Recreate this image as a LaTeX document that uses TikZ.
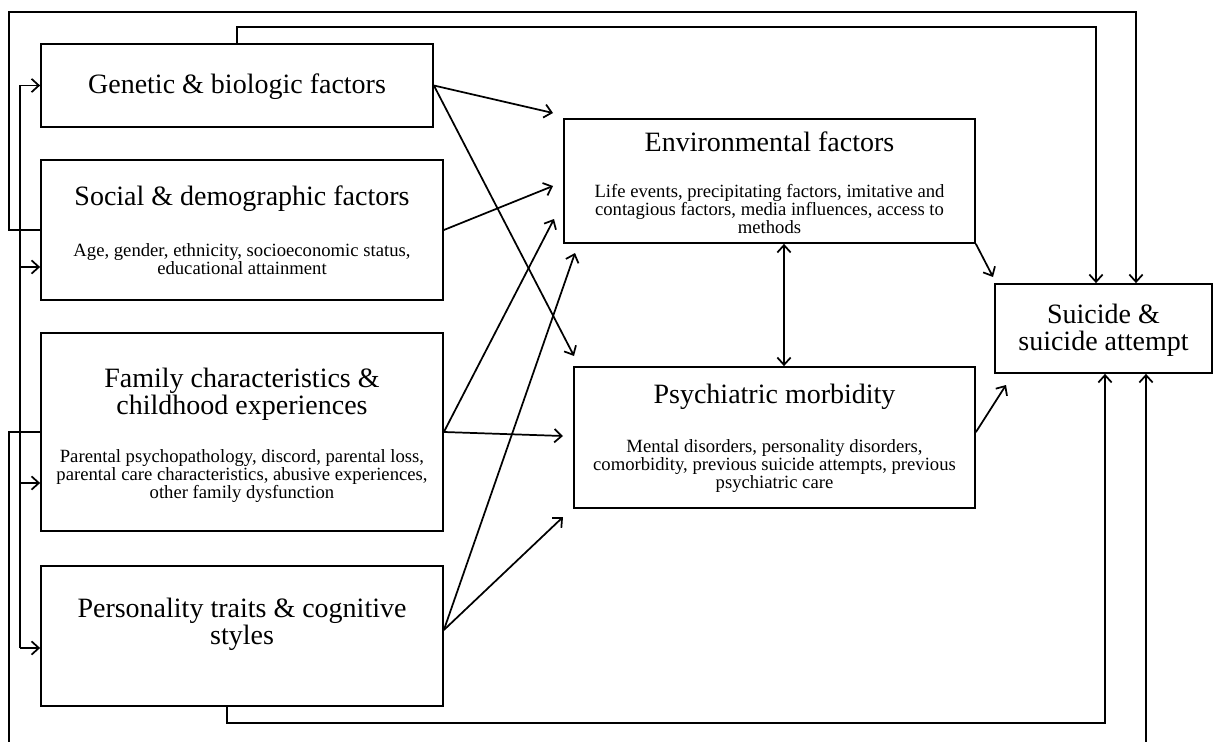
\documentclass[tikz,border=0pt]{standalone}
\usepackage{fontspec}
\setmainfont{Liberation Serif}
\usetikzlibrary{arrows.meta, calc, positioning}

\tikzset{
  box/.style={draw, line width=1.3pt, inner sep=0pt},
  title/.style={font=\fontsize{21}{20.5}\selectfont, align=center},
  detail/.style={font=\fontsize{14}{13.7}\selectfont, align=center},
  wire/.style={line width=1.3pt},
}

\begin{document}
\begin{tikzpicture}[x=0.75pt, y=-0.75pt, >={Straight Barb[length=5.5pt,width=10pt]}]
\useasboundingbox (0,0) rectangle (1214,742);
% Factores de la izquierda
\node[box, minimum width=294pt, minimum height=62.25pt] (gen) at (237,85.5) {};
\node[box, minimum width=301.5pt, minimum height=105pt] (soc) at (242,230) {};
\node[box, minimum width=301.5pt, minimum height=148.5pt] (fam) at (242,432) {};
\node[box, minimum width=301.5pt, minimum height=105pt] (per) at (242,636) {};
\node[title] (genT) at (237,87) {Genetic \& biologic factors};
\node[title] (socT) at (242,199) {Social \& demographic factors};
\node[detail] (socD) at (242,259) {Age, gender, ethnicity, socioeconomic status,\\ educational attainment};
\node[title] (famT) at (242,394) {Family characteristics \&\\ childhood experiences};
\node[detail] (famD) at (242,476) {Parental psychopathology, discord, parental loss,\\ parental care characteristics, abusive experiences,\\ other family dysfunction};
\node[title] (perT) at (242,624) {Personality traits \& cognitive\\ styles};
% Cajas del centro
\node[box, minimum width=308.25pt, minimum height=93pt] (env) at (769.5,181) {};
\node[box, minimum width=300.75pt, minimum height=105.75pt] (psy) at (774.5,437.5) {};
\node[title] (envT) at (769.5,142) {Environmental factors};
\node[detail] (envD) at (769.5,209) {Life events, precipitating factors, imitative and\\ contagious factors, media influences, access to\\ methods};
\node[title] (psyT) at (774.5,397) {Psychiatric morbidity};
\node[detail] (psyD) at (774.5,466) {Mental disorders, personality disorders,\\ comorbidity, previous suicide attempts, previous\\ psychiatric care};
% Resultado
\node[box, minimum width=162.75pt, minimum height=66.75pt] (sui) at (1103.5,328.5) {};
\node[title] (suiT) at (1103.5,330) {Suicide \&\\ suicide attempt};
% Puntas libres
\coordinate (envA) at (553,113);
\coordinate (envB) at (553,186);
\coordinate (envC) at (554,219);
\coordinate (envD) at (575,253);
\coordinate (psyA) at (574,356);
\coordinate (psyB) at (563,436);
\coordinate (psyC) at (563,517);
\coordinate (suiA) at (993,277);
\coordinate (suiB) at (1006,385);
% Flechas
\draw[wire, ->] (gen.east) -- (envA);
\draw[wire, ->] (gen.east) -- (psyA);
\draw[wire, ->] (soc.east) -- (envB);
\draw[wire, ->] (fam.east) -- (envC);
\draw[wire, ->] (fam.east) -- (psyB);
\draw[wire, ->] ([yshift=4.5pt]per.east) -- (envD);
\draw[wire, ->] ([yshift=4.5pt]per.east) -- (psyC);
\draw[wire, <->] ($(env.south)+(14.5,0)$) -- ($(psy.north)+(9.5,0)$);
\draw[wire, ->] (env.south east) -- (suiA);
\draw[wire, ->] ([yshift=4pt]psy.east) -- (suiB);
% Rutas exteriores
\draw[wire, ->] (soc.west) -| (9,12) -| ($(sui.north)+(32.5,0)$);
\draw[wire, ->] (gen.north) -- ++(0,-16) -| ($(sui.north)+(-7.5,0)$);
\draw[wire, ->] (fam.west) -| (9,760) -| ($(sui.south)+(42.5,0)$);
\draw[wire, ->] ($(per.south)+(-15,0)$) -- ++(0,16) -| ($(sui.south)+(1.5,0)$);
% Barra de la izquierda
\draw[wire] ($(gen.west)+(-20,0)$) -- ($(per.west)+(-20,12)$);
\foreach \b/\dy in {gen/0, soc/37, fam/51, per/12}
  \draw[wire, ->] ($(\b.west)+(-20,\dy)$) -- ($(\b.west)+(0,\dy)$);
\end{tikzpicture}
\end{document}
